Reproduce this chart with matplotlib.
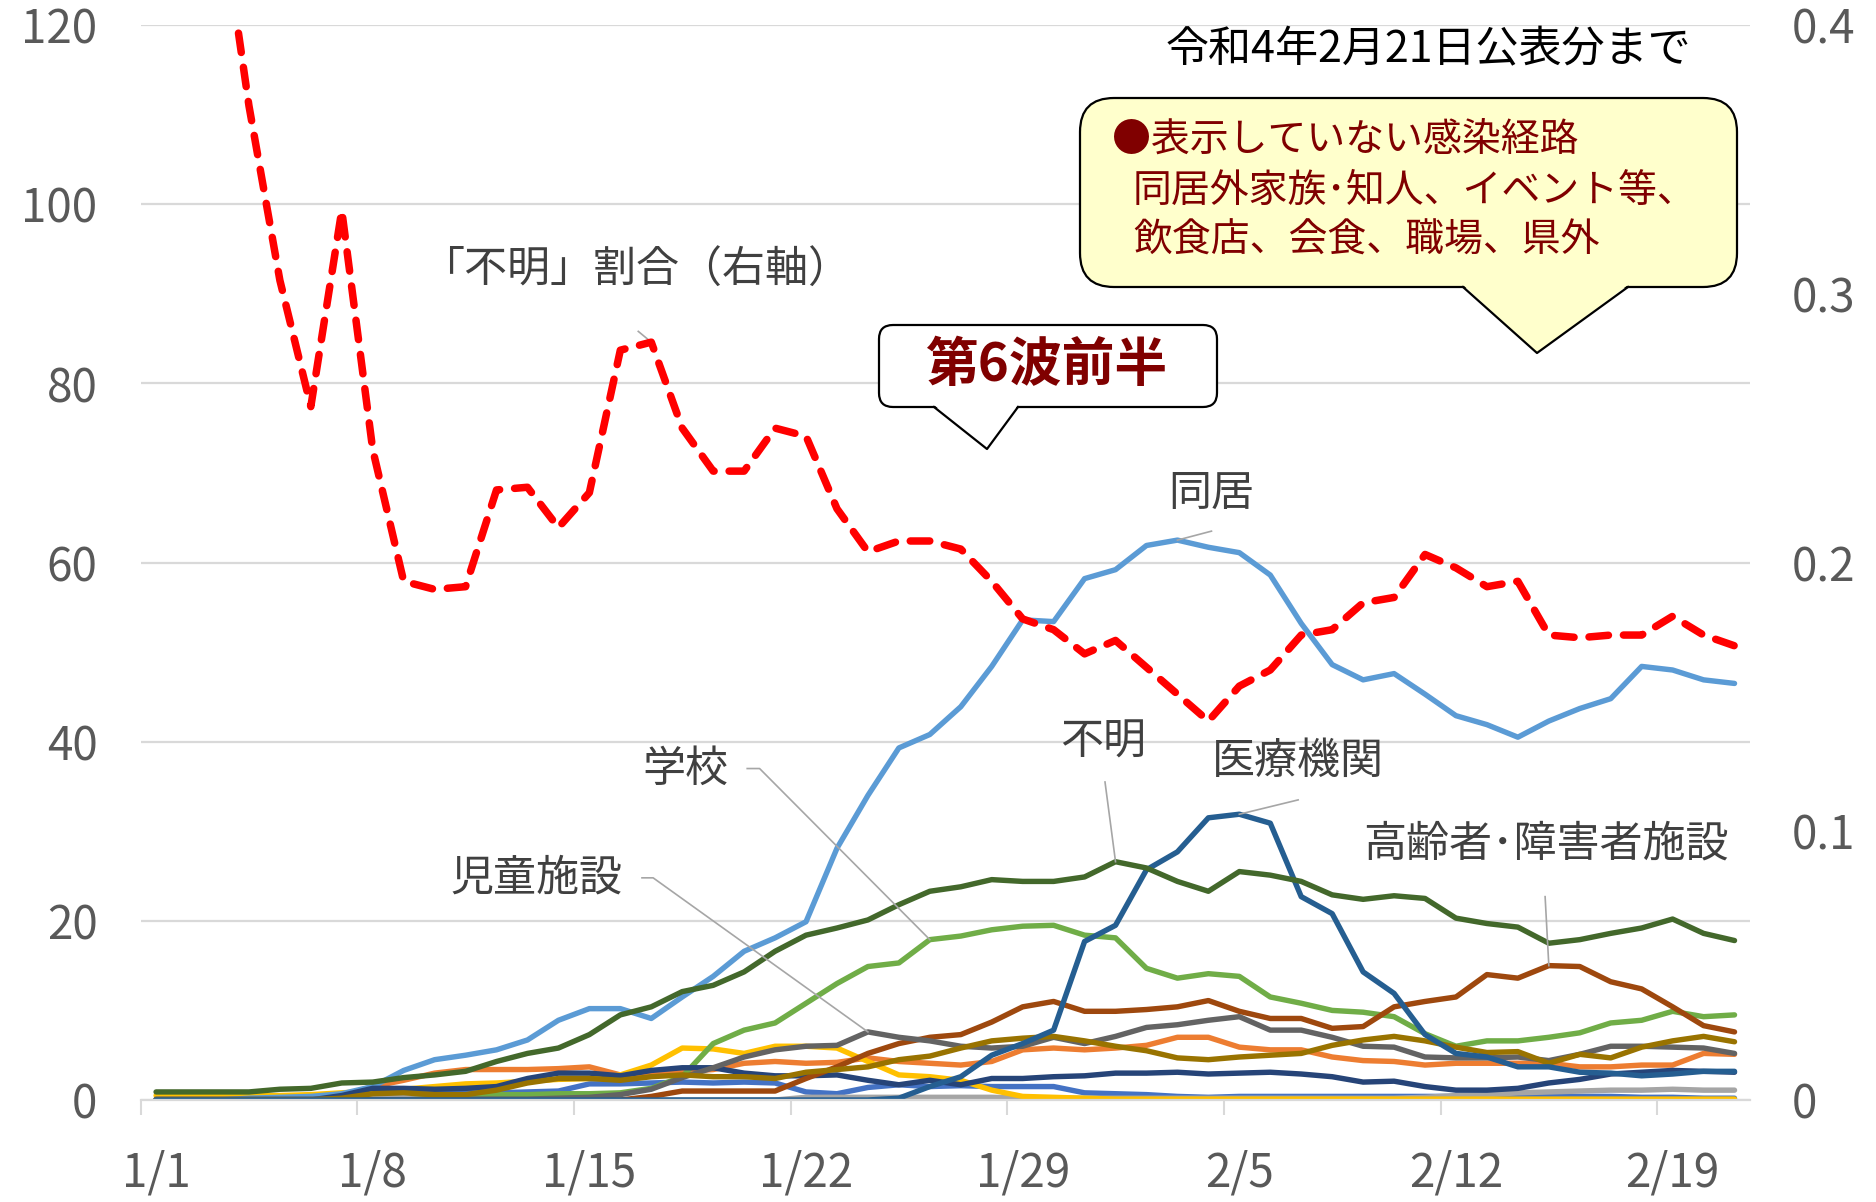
import numpy as np
import matplotlib
matplotlib.use('Agg')
import matplotlib.pyplot as plt
from matplotlib.patches import FancyBboxPatch, Polygon
from matplotlib.lines import Line2D
from matplotlib.transforms import IdentityTransform

plt.rcParams['font.family'] = ['Noto Sans CJK JP', 'DejaVu Sans']

# --- data (7-day values, 1/1 .. 2/21) ---
days = np.arange(52)
xtick_labels = ['1/1', '1/8', '1/15', '1/22', '1/29', '2/5', '2/12', '2/19']

blue_low = [0, 0, 0, 0, 0.2, 0.4, 0.6, 0.8, 0.8, 0.8, 0.8, 0.8, 0.9, 1.0, 1.8, 1.8, 1.9, 2.0,
            1.9, 2.0, 1.9, 0.9, 0.7, 1.4, 1.7, 1.5, 1.6, 1.5, 1.5, 1.5, 0.8, 0.7, 0.6, 0.4, 0.3,
            0.4, 0.4, 0.4, 0.4, 0.4, 0.4, 0.4, 0.4, 0.4, 0.4, 0.4, 0.4, 0.4, 0.3, 0.3, 0.2, 0.2]
orange = [0, 0, 0, 0, 0, 0, 0.5, 1.5, 2.2, 3.0, 3.4, 3.4, 3.4, 3.5, 3.7, 2.8, 3.0, 3.2, 3.4,
          4.1, 4.3, 4.1, 4.2, 4.7, 4.3, 4.1, 3.9, 4.3, 5.6, 5.8, 5.6, 5.8, 6.1, 7.0, 7.0, 5.9,
          5.6, 5.6, 4.8, 4.4, 4.3, 3.9, 4.1, 4.1, 4.1, 4.1, 3.7, 3.7, 3.9, 3.9, 5.2, 5.1]
gray_light = [0] * 21 + [0.3] * 7 + [0.2] * 13 + [0.3, 0.5, 0.6, 0.8, 0.9, 1.0, 1.1, 1.1,
                                                 1.2, 1.1, 1.1]
gold = [0.5, 0.5, 0.5, 0.5, 0.5, 0.6, 0.8, 1.0, 1.2, 1.5, 1.8, 1.9, 2.1, 2.3, 2.4, 2.8, 3.9,
        5.8, 5.7, 5.2, 6.0, 6.0, 5.8, 4.3, 2.8, 2.6, 2.2, 1.1, 0.4, 0.3, 0.2, 0.1, 0.1, 0.1,
        0.1, 0.1, 0.1, 0.1, 0.1, 0.1, 0.1, 0.1, 0.1, 0.1, 0.1, 0.1, 0.1, 0.1, 0.1, 0.1, 0.1, 0.1]
dokyo = [0, 0, 0, 0.2, 0.3, 0.4, 0.7, 1.5, 3.3, 4.5, 5.0, 5.6, 6.7, 8.9, 10.2, 10.2, 9.1,
         11.5, 13.8, 16.6, 18.1, 19.9, 28.1, 34.0, 39.3, 40.8, 43.9, 48.4, 53.6, 53.4, 58.2,
         59.2, 61.9, 62.5, 61.7, 61.1, 58.6, 53.2, 48.6, 46.9, 47.6, 45.3, 42.9, 41.9, 40.5,
         42.3, 43.7, 44.8, 48.4, 48.0, 46.9, 46.5]
gakko = [0, 0, 0, 0, 0, 0, 0, 0, 0, 0.2, 0.5, 0.6, 0.6, 0.7, 0.7, 0.8, 1.3, 2.6, 6.3, 7.8,
         8.6, 10.8, 13.0, 14.9, 15.3, 17.9, 18.3, 19.0, 19.4, 19.5, 18.4, 18.1, 14.7, 13.6,
         14.1, 13.8, 11.5, 10.8, 10.0, 9.8, 9.3, 7.4, 6.0, 6.6, 6.6, 7.0, 7.5, 8.6, 8.9, 9.9,
         9.3, 9.5]
navy = [0, 0, 0, 0, 0, 0, 0.5, 1.3, 1.3, 1.2, 1.3, 1.5, 2.4, 3.0, 3.0, 2.7, 3.3, 3.6, 3.6,
        3.0, 2.7, 2.7, 2.8, 2.2, 1.7, 2.2, 1.7, 2.4, 2.4, 2.6, 2.7, 3.0, 3.0, 3.1, 2.9, 3.0,
        3.1, 2.9, 2.6, 2.0, 2.1, 1.5, 1.1, 1.1, 1.3, 1.9, 2.3, 2.9, 3.1, 3.3, 3.2, 3.1]
koreisha = [0] * 16 + [0.4, 1.0, 1.0, 1.0, 1.0, 2.4, 3.7, 5.2, 6.3, 7.0, 7.3, 8.7, 10.4, 11.0,
                       9.9, 9.9, 10.1, 10.4, 11.1, 9.9, 9.1, 9.1, 8.0, 8.2, 10.4, 11.0, 11.5,
                       14.0, 13.6, 15.0, 14.9, 13.2, 12.4, 10.4, 8.3, 7.6]
jido = [0.1] * 13 + [0.2, 0.3, 0.6, 1.2, 2.5, 3.6, 4.8, 5.6, 6.0, 6.1, 7.6, 7.0, 6.6, 6.0,
                     5.8, 6.0, 7.0, 6.3, 7.1, 8.1, 8.4, 8.9, 9.3, 7.8, 7.8, 7.0, 6.0, 5.9, 4.8,
                     4.7, 4.7, 4.8, 4.4, 5.1, 6.0, 6.0, 5.9, 5.8, 5.2]
olive = [0, 0, 0, 0, 0, 0, 0.2, 0.7, 0.8, 0.6, 0.6, 1.1, 1.9, 2.4, 2.4, 2.2, 2.6, 2.8, 2.6,
         2.6, 2.4, 3.1, 3.4, 3.7, 4.5, 4.9, 5.8, 6.6, 6.9, 7.1, 6.6, 6.0, 5.5, 4.7, 4.5, 4.8,
         5.0, 5.2, 6.1, 6.7, 7.1, 6.6, 5.9, 5.3, 5.4, 4.1, 5.1, 4.7, 5.9, 6.6, 7.1, 6.5]
iryo = [0] * 24 + [0.2, 1.5, 2.6, 5.0, 6.3, 7.8, 17.7, 19.5, 25.7, 27.7, 31.5, 31.9, 30.9,
                   22.7, 20.8, 14.3, 11.9, 7.3, 5.2, 4.8, 3.7, 3.7, 3.1, 3.0, 2.7, 2.9, 3.2, 3.2]
fumei = [0.9, 0.9, 0.9, 0.9, 1.2, 1.3, 1.9, 2.0, 2.5, 2.8, 3.2, 4.3, 5.2, 5.8, 7.3, 9.5, 10.4,
         12.1, 12.8, 14.3, 16.6, 18.4, 19.2, 20.1, 21.8, 23.3, 23.8, 24.6, 24.4, 24.4, 24.9,
         26.6, 25.9, 24.4, 23.3, 25.5, 25.1, 24.4, 22.9, 22.4, 22.8, 22.5, 20.3, 19.7, 19.3,
         17.5, 17.9, 18.6, 19.2, 20.2, 18.6, 17.8]
# 「不明」割合 (right axis)
fumei_ratio = [0.60, 0.52, 0.45, 0.37, 0.305, 0.258, 0.331, 0.242, 0.193, 0.190, 0.191, 0.227,
               0.228, 0.213, 0.226, 0.279, 0.282, 0.250, 0.234, 0.234, 0.250, 0.247, 0.220,
               0.204, 0.208, 0.208, 0.205, 0.193, 0.179, 0.175, 0.166, 0.171, 0.161, 0.151,
               0.141, 0.154, 0.160, 0.173, 0.175, 0.185, 0.187, 0.203, 0.198, 0.191, 0.193,
               0.173, 0.172, 0.173, 0.173, 0.180, 0.173, 0.169]

series = [(blue_low, '#4472C4'), (orange, '#ED7D31'), (gray_light, '#A5A5A5'),
          (gold, '#FFC000'), (dokyo, '#5B9BD5'), (gakko, '#70AD47'), (navy, '#264478'),
          (koreisha, '#9E480E'), (jido, '#636363'), (olive, '#997300'), (iryo, '#255E91'),
          (fumei, '#43682B')]

W, H = 1876, 1202
fig = plt.figure(figsize=(W / 100, H / 100), dpi=100)
ax = fig.add_axes([140.6 / W, 1 - 1100 / H, (1750 - 140.6) / W, 1075 / H])
ax2 = ax.twinx()

for vals, col in series:
    ax.plot(days, vals, color=col, lw=3.9, solid_joinstyle='round', solid_capstyle='round')

ax2.plot(days, fumei_ratio, color='#FF0000', lw=5.4, dashes=(2.6, 2.0),
         dash_capstyle='round', dash_joinstyle='round')

ax.set_xlim(-0.5, 51.5)
ax.set_ylim(0, 120)
ax2.set_ylim(0, 0.4)
ax.set_yticks(range(0, 121, 20))
ax2.set_yticks([0, 0.1, 0.2, 0.3, 0.4])
ax2.set_yticklabels(['0', '0.1', '0.2', '0.3', '0.4'])
ax.grid(axis='y', color='#D9D9D9', lw=1.6)
ax.set_axisbelow(True)
for s in ['top', 'left', 'right']:
    ax.spines[s].set_visible(False)
for s in ax2.spines.values():
    s.set_visible(False)
ax.spines['bottom'].set_color('#D9D9D9')
ax.spines['bottom'].set_linewidth(1.6)

ax.set_xticks(np.arange(-0.5, 52, 7))
ax.tick_params(axis='x', which='major', length=11, width=1.5, color='#D9D9D9',
               labelbottom=False)
ax.set_xticks(np.arange(0, 52, 7), minor=True)
ax.set_xticklabels(xtick_labels, minor=True)
ax.tick_params(axis='x', which='minor', length=0, pad=35, labelsize=33,
               labelcolor='#595959')
ax.tick_params(axis='y', length=0, pad=31, labelsize=33, labelcolor='#595959')
ax2.tick_params(axis='y', length=0, pad=30, labelsize=33, labelcolor='#595959')

# series labels with leader lines
lab_kw = dict(fontsize=31, color='#404040', ha='center', va='center')
lead_kw = dict(color='#A6A6A6', lw=1.2)
labels = [
    ('「不明」割合（右軸）', 15.5, 92.5, [(15.58, 85.8), (16, fumei_ratio[16] * 300)]),
    ('同居', 34.1, 67.7, [(34.1, 63.5), (33, dokyo[33])]),
    ('不明', 30.6, 39.9, [(30.66, 35.5), (31, fumei[31])]),
    ('医療機関', 36.9, 37.7, [(36.9, 33.5), (35, iryo[35])]),
    ('高齢者･障害者施設', 44.9, 28.5, [(44.88, 22.7), (45, koreisha[45])]),
    ('学校', 17.1, 36.9, [(19.1, 37.0), (19.5, 37.0), (25, gakko[25])]),
    ('児童施設', 12.3, 24.7, [(15.7, 24.8), (16.06, 24.8), (23, jido[23])]),
]
for txt, tx, ty, pts in labels:
    ax.text(tx, ty, txt, zorder=10, **lab_kw)
    xs, ys = zip(*pts)
    ax.plot(xs, ys, zorder=9, **lead_kw)


# callout boxes (figure pixel coordinates)
def callout(x0, y0, x1, y1, bl, br, tip, fc, rad):
    ident = IdentityTransform()
    box = FancyBboxPatch((x0, H - y1), x1 - x0, y1 - y0,
                         boxstyle=f'round,pad=0,rounding_size={rad}',
                         fc=fc, ec='black', lw=1.6, transform=ident, zorder=20)
    fig.patches.append(box)
    tri = Polygon([(bl, H - y1 + 2), (tip[0], H - tip[1]), (br, H - y1 + 2)],
                  closed=True, fc=fc, ec='none', transform=ident, zorder=21)
    fig.patches.append(tri)
    fig.lines.append(Line2D([bl, tip[0], br], [H - y1, H - tip[1], H - y1],
                            color='black', lw=1.6, transform=ident, zorder=22))


callout(879, 325, 1217, 407, 934, 1018, (987, 449), 'white', 14)
fig.text(1046 / W, 1 - 366 / H, '第6波前半', fontsize=38, fontweight='bold',
         color='#800000', ha='center', va='center', zorder=30)

callout(1080, 98, 1737, 287, 1463, 1628, (1537, 353), '#FFFFCC', 34)
note_lines = [('●表示していない感染経路', 1112, 140),
              ('同居外家族･知人、イベント等、', 1133, 191),
              ('飲食店、会食、職場、県外', 1133, 241)]
for txt, tx, ty in note_lines:
    fig.text(tx / W, 1 - ty / H, txt, fontsize=28, color='#800000',
             ha='left', va='center', zorder=30)

fig.text(1428 / W, 1 - 50 / H, '令和4年2月21日公表分まで', fontsize=31, color='black',
         ha='center', va='center', zorder=30)

fig.savefig('out.png', dpi=100)
